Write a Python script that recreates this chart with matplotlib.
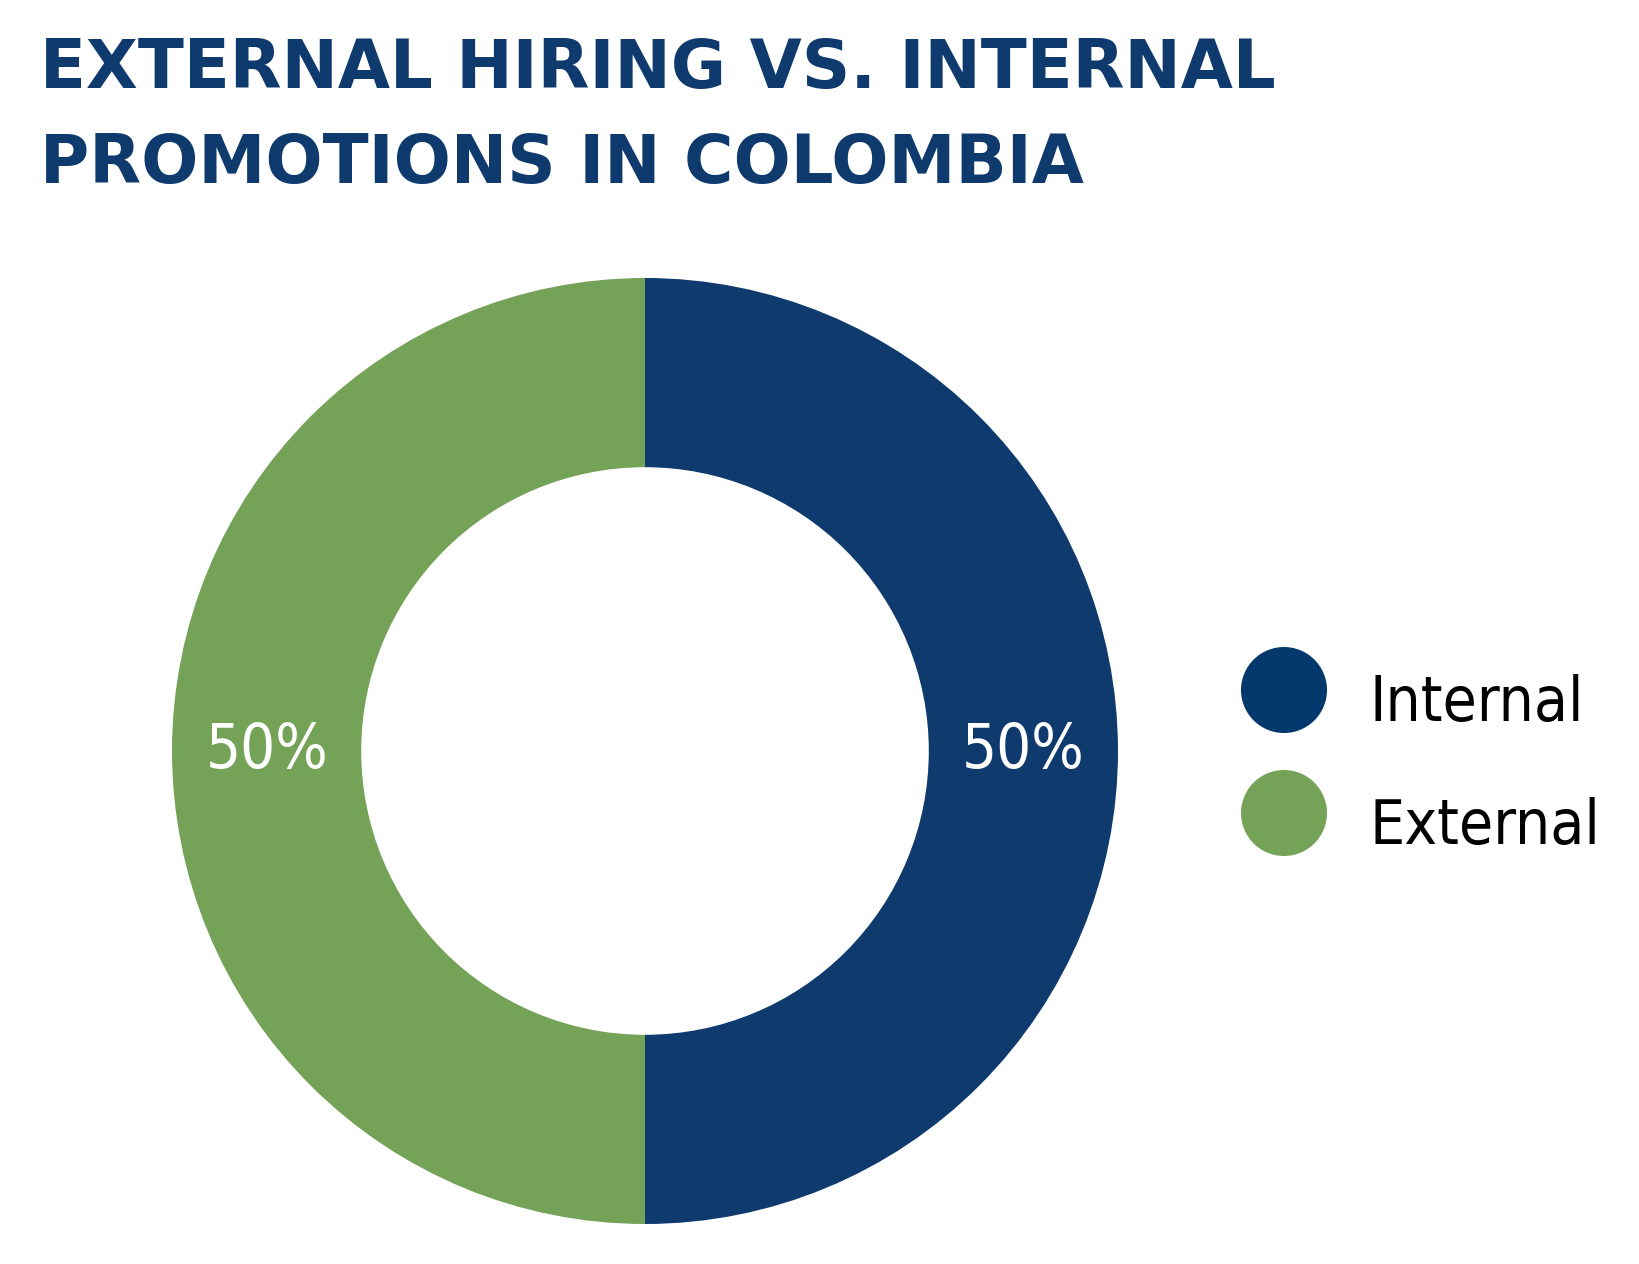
import matplotlib
matplotlib.use("Agg")
import matplotlib.pyplot as plt
from matplotlib.patches import Circle
from matplotlib import font_manager

categories = ["Internal", "External"]
values = [50, 50]
colors = ["#0e3a6e", "#74a257"]
legend_colors = ["#03386c", "#74a257"]
title_lines = ["EXTERNAL HIRING VS. INTERNAL", "PROMOTIONS IN COLOMBIA"]

W, H = 1640, 1264
fig = plt.figure(figsize=(W / 100, H / 100), dpi=100)
fig.patch.set_facecolor("white")

# look for a condensed face among installed fonts
cond_prop = None
for f in font_manager.fontManager.ttflist:
    nm = f.name.lower()
    st = str(f.stretch).lower()
    if ("condensed" in nm or "narrow" in nm or "condensed" in st) and f.weight in (400, "normal", "regular") and f.style == "normal":
        cond_prop = font_manager.FontProperties(fname=f.fname)
        break


def tprops(size):
    if cond_prop is not None:
        p = cond_prop.copy()
    else:
        p = font_manager.FontProperties(family="Liberation Sans")
    p.set_size(size)
    return p


renderer = fig.canvas.get_renderer()


def fit(text_obj, target_w):
    bb = text_obj.get_window_extent(renderer=renderer)
    s = text_obj.get_fontsize() * target_w / bb.width
    text_obj.set_fontsize(s)
    return s


# Donut
cx, cy, r = 645, 751, 473
ax = fig.add_axes([(cx - r) / W, (H - cy - r) / H, 2 * r / W, 2 * r / H])
wedges, texts, autotexts = ax.pie(
    values, colors=colors, startangle=90, counterclock=False, radius=1,
    wedgeprops=dict(width=0.4, linewidth=0), autopct=lambda p: f"{p:.0f}%",
    pctdistance=0.8, textprops=dict(color="white"),
)
for t in autotexts:
    t.set_fontproperties(tprops(50))
    fit(t, 123)
ax.set_xlim(-1, 1)
ax.set_ylim(-1, 1)
ax.set_aspect("equal")
ax.axis("off")

# Title
title_y = [88, 183]
for line, y in zip(title_lines, title_y):
    fig.text(40 / W, 1 - y / H, line, fontsize=48.5, fontweight="bold",
             color="#0f3a6e", family="DejaVu Sans", ha="left", va="baseline")

# Legend
lax = fig.add_axes([0, 0, 1, 1], facecolor="none")
lax.set_xlim(0, W)
lax.set_ylim(H, 0)
lax.axis("off")
leg_y = [690, 813]
leg_targets = [225, 231]
leg_texts = []
for cat, col, y in zip(categories, legend_colors, leg_y):
    lax.add_patch(Circle((1284, y), 43, color=col, lw=0))
    t = lax.text(1370, y + 31, cat, color="black", fontproperties=tprops(50),
                 ha="left", va="baseline")
    leg_texts.append(t)
sizes = []
for t, tw in zip(leg_texts, leg_targets):
    sizes.append(fit(t, tw))
for t in leg_texts:
    t.set_fontsize(min(sizes))

fig.savefig("out.png", dpi=100, facecolor="white")
